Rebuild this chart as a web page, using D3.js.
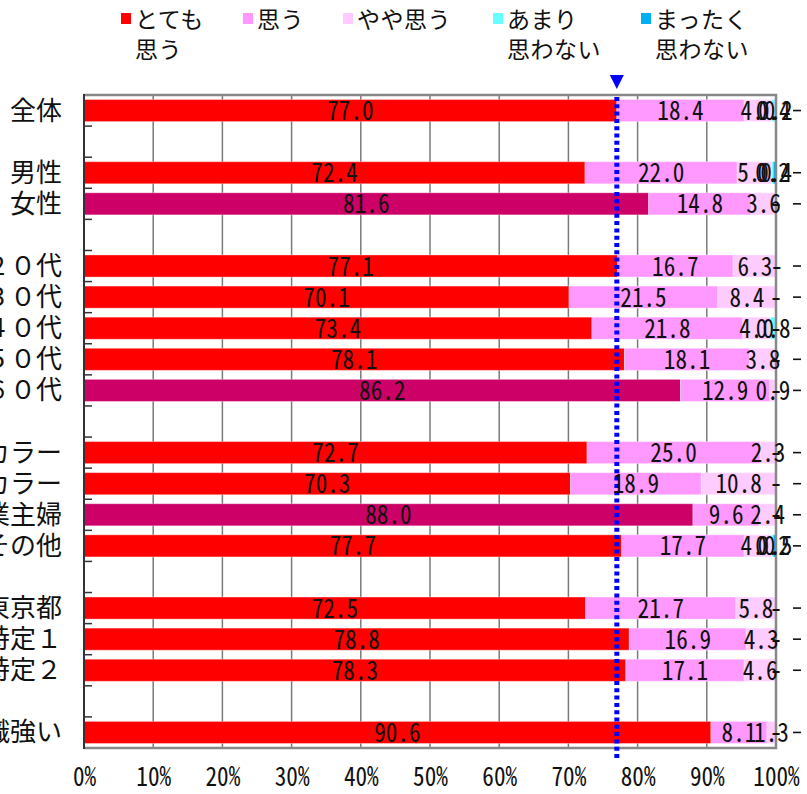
<!DOCTYPE html>
<html>
<head>
<meta charset="utf-8">
<script src="https://cdn.jsdelivr.net/npm/d3@7"></script>
<style>
  html, body { margin: 0; padding: 0; background: #fff; overflow: hidden; }
  svg { display: block; }
  .jp  { font-family: "Noto Sans CJK JP", "Noto Sans", sans-serif; fill: #111; }
  .num { font-family: "Noto Sans CJK JP", "Noto Sans", sans-serif; font-feature-settings: "hwid" 1; fill: #111; }
</style>
</head>
<body>
<svg id="chart" width="807" height="794"></svg>
<script>
// Row labels (empty strings are spacer rows between groups)
const categories = [
  "全体", "",
  "男性", "女性", "",
  "２０代", "３０代", "４０代", "５０代", "６０代", "",
  "ホワイトカラー", "ブルーカラー", "専業主婦", "その他", "",
  "東京都", "特定１", "特定２", "",
  "意識強い"
];

// Answer shares (%) per row; null marks a spacer row
const veryMuch = [77.0, null, 72.4, 81.6, null, 77.1, 70.1, 73.4, 78.1, 86.2, null, 72.7, 70.3, 88.0, 77.7, null, 72.5, 78.8, 78.3, null, 90.6];
const agree    = [18.4, null, 22.0, 14.8, null, 16.7, 21.5, 21.8, 18.1, 12.9, null, 25.0, 18.9,  9.6, 17.7, null, 21.7, 16.9, 17.1, null,  8.1];
const somewhat = [ 4.0, null,  5.0,  3.6, null,  6.3,  8.4,  4.0,  3.8,  0.9, null,  2.3, 10.8,  2.4,  4.0, null,  5.8,  4.3,  4.6, null,  1.3];
const notMuch  = [ 0.4, null,  0.2,  0.0, null,  0.0,  0.0,  0.8,  0.0,  0.0, null,  0.0,  0.0,  0.0,  0.2, null,  0.0,  0.0,  0.0, null,  0.0];
const notAtAll = [ 0.2, null,  0.4,  0.0, null,  0.0,  0.0,  0.0,  0.0,  0.0, null,  0.0,  0.0,  0.0,  0.5, null,  0.0,  0.0,  0.0, null,  0.0];

// Rows whose top share is emphasised within its group
const emphasized = ["女性", "６０代", "専業主婦"];

// Series names (legend lines) and axis ticks
const seriesKeys   = ["veryMuch", "agree", "somewhat", "notMuch", "notAtAll"];
const seriesLabels = [["とても", "思う"], ["思う"], ["やや思う"], ["あまり", "思わない"], ["まったく", "思わない"]];
const tickValues   = [0, 10, 20, 30, 40, 50, 60, 70, 80, 90, 100];

// Overall "とても思う" share used as the reference line
const referenceValue = veryMuch[0];

const seriesColors = ["#FF0000", "#FF99FF", "#FFCCFF", "#66FFFF", "#00B0F0"];
const emphasisColor = "#CC0066";

const svg = d3.select("#chart");
const plot = { left: 84, right: 776, top: 95, bottom: 748 };

const x = d3.scaleLinear().domain([0, 100]).range([plot.left, plot.right]);
const pad = 0.29;
const y = d3.scaleBand()
  .domain(d3.range(categories.length))
  .range([plot.top, plot.bottom])
  .paddingInner(pad)
  .paddingOuter(pad / 2);
const slot = d3.scaleLinear().domain([0, categories.length]).range([plot.top, plot.bottom]);

// Table built from the series arrays
const rows = categories.map((name, i) => ({
  i, name,
  veryMuch: veryMuch[i], agree: agree[i], somewhat: somewhat[i],
  notMuch: notMuch[i], notAtAll: notAtAll[i]
})).filter(r => r.veryMuch !== null);

const stacked = d3.stack().keys(seriesKeys)(rows);

// Vertical gridlines
svg.append("g")
  .selectAll("line")
  .data(tickValues.filter(t => t > 0 && t < 100))
  .join("line")
  .attr("x1", d => x(d)).attr("x2", d => x(d))
  .attr("y1", plot.top).attr("y2", plot.bottom)
  .attr("stroke", "#7a7a7a").attr("stroke-width", 1.5);

// Stacked bars
const layers = svg.append("g")
  .selectAll("g")
  .data(stacked)
  .join("g");

layers.selectAll("rect")
  .data((s, si) => s.map(d => ({ d, si, key: s.key })))
  .join("rect")
  .attr("x", o => x(o.d[0]))
  .attr("width", o => Math.max(0, x(o.d[1]) - x(o.d[0])))
  .attr("y", o => y(o.d.data.i))
  .attr("height", y.bandwidth())
  .attr("fill", o => (o.si === 0 && emphasized.includes(o.d.data.name)) ? emphasisColor : seriesColors[o.si])
  .attr("stroke", "rgba(255,255,255,0.35)")
  .attr("stroke-width", 1);

// Frame: grey top/right/bottom, dark left axis
svg.append("path")
  .attr("d", `M${plot.left},${plot.top}H${plot.right}V${plot.bottom}H${plot.left}`)
  .attr("fill", "none").attr("stroke", "#888").attr("stroke-width", 2.5);
svg.append("line")
  .attr("x1", plot.left).attr("x2", plot.left)
  .attr("y1", plot.top - 1).attr("y2", plot.bottom + 1)
  .attr("stroke", "#333").attr("stroke-width", 2);

// Category separators on the left axis
svg.append("g")
  .selectAll("line")
  .data(d3.range(1, categories.length))
  .join("line")
  .attr("x1", plot.left).attr("x2", plot.left + 8)
  .attr("y1", d => slot(d)).attr("y2", d => slot(d))
  .attr("stroke", "#333").attr("stroke-width", 1.5);

// Category labels
svg.append("g")
  .selectAll("text")
  .data(rows)
  .join("text")
  .attr("class", "jp")
  .attr("x", 62)
  .attr("y", r => y(r.i) + y.bandwidth() / 2 + 9)
  .attr("text-anchor", "end")
  .attr("font-size", 26)
  .text(r => r.name);

// Reference line at the overall value
const rx = x(referenceValue);
svg.append("line")
  .attr("x1", rx).attr("x2", rx)
  .attr("y1", plot.top + 2).attr("y2", 758)
  .attr("stroke", "#0000FF").attr("stroke-width", 5)
  .attr("stroke-dasharray", "4 3.3");
svg.append("path")
  .attr("d", `M${rx - 7},75L${rx + 7},75L${rx},89Z`)
  .attr("fill", "#0000FF");

// Value labels centred on each segment ("-" for zero)
const labels = svg.append("g");
stacked.forEach(s => {
  s.forEach(d => {
    const raw = d.data[s.key];
    const cx = (x(d[0]) + x(d[1])) / 2;
    const cy = y(d.data.i) + y.bandwidth() / 2 + 9.5;
    labels.append("text")
      .attr("class", "num")
      .attr("transform", `translate(${cx},${cy}) scale(0.86,1)`)
      .attr("text-anchor", "middle")
      .attr("font-size", 27)
      .text(raw === 0 ? "-" : raw.toFixed(1));
  });
});

// Row-end markers to the right of the plot
svg.append("g")
  .selectAll("line")
  .data(rows)
  .join("line")
  .attr("x1", 793).attr("x2", 801)
  .attr("y1", r => y(r.i) + y.bandwidth() / 2)
  .attr("y2", r => y(r.i) + y.bandwidth() / 2)
  .attr("stroke", "#111").attr("stroke-width", 1.6);

// Percentage axis
const xAxis = svg.append("g")
  .attr("transform", `translate(0,${plot.bottom})`)
  .call(d3.axisBottom(x).tickValues(tickValues).tickFormat(d => d + "%").tickSize(0).tickPadding(19));
xAxis.select(".domain").remove();
xAxis.selectAll("text")
  .attr("class", "num")
  .attr("font-size", 27)
  .attr("transform", "scale(0.86,1)")
  .style("fill", "#111");

// Legend
const legendX = [121, 243, 343, 493, 641];
const legend = svg.append("g");
seriesLabels.forEach((lines, k) => {
  const g = legend.append("g").attr("transform", `translate(${legendX[k]},0)`);
  g.append("rect").attr("x", 0).attr("y", 13).attr("width", 10).attr("height", 11).attr("fill", seriesColors[k]);
  lines.forEach((t, li) => {
    g.append("text")
      .attr("class", "jp")
      .attr("x", 14)
      .attr("y", 28 + li * 30)
      .attr("font-size", 23)
      .attr("letter-spacing", 0.5)
      .text(t);
  });
});
</script>
</body>
</html>
